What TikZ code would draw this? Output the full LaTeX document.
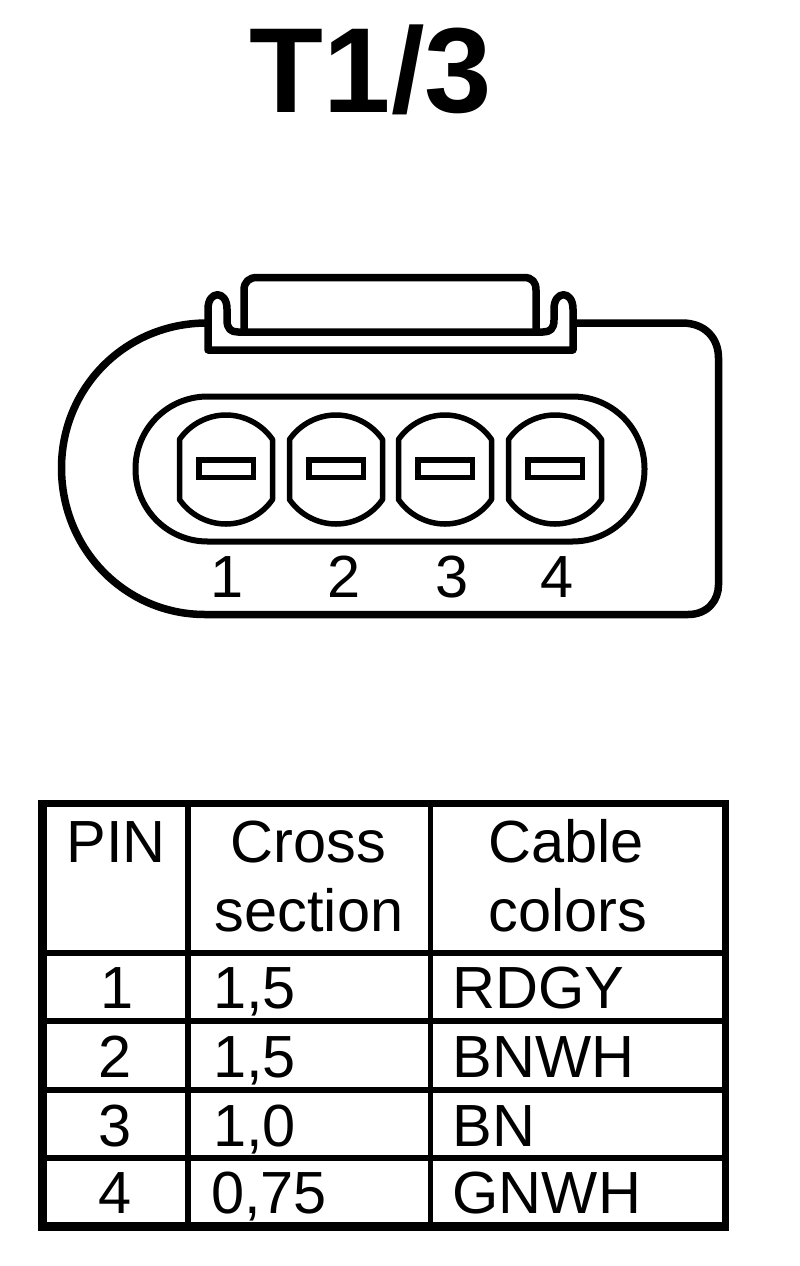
\documentclass[tikz,border=0pt]{standalone}
\usepackage{fontspec}
\setmainfont{Liberation Sans}
\tikzset{
  oval line/.style={line width=6pt,draw=black,line join=round},
  pin line/.style={line width=5.5pt,draw=black,line join=round},
  body line/.style={line width=7.5pt,draw=black,line join=round},
  table line/.style={line width=6pt,draw=black,line join=miter},
  heavy table line/.style={line width=9pt,draw=black},
  light table line/.style={line width=7pt,draw=black},
  cell/.style={anchor=base,inner sep=0pt,font=\fontsize{59.5}{62}\selectfont},
  lcell/.style={anchor=base west,inner sep=0pt,font=\fontsize{59.5}{62}\selectfont},
  title text/.style={anchor=base,inner sep=0pt,font=\fontsize{121}{125}\selectfont\bfseries}
}
\begin{document}
\begin{tikzpicture}[x=1pt,y=-1pt]
\useasboundingbox[fill=white] (0,0) rectangle (800,1266);
\node[title text] (title) at (371,112) {T1/3};
% body
\draw[body line] (207,323) .. controls (125,323) and (61.5,388) .. (61.5,468)
  .. controls (61.5,549) and (125,614.5) .. (205,614.5) -- (688,614.5)
  .. controls (708,614.5) and (718.5,600) .. (718.5,585) -- (718.5,358)
  .. controls (718.5,338) and (705,323) .. (682,323) -- (575,323);
% clip
\draw[body line] (208,350) -- (208,309) .. controls (208,290) and (227,290) .. (227,309)
  -- (227,320) .. controls (227,329) and (231,332) .. (238,332) -- (543,332)
  .. controls (550,332) and (554,329) .. (554,320) -- (554,309)
  .. controls (554,290) and (573,290) .. (573,309) -- (573,350) -- cycle;
\draw[body line] (244,332) -- (244,290) .. controls (244,282) and (249,277.5) .. (257,277.5)
  -- (524,277.5) .. controls (532,277.5) and (536,282) .. (536,290) -- (536,332);
% inner oval
\draw[oval line,rounded corners=72pt] (135.5,396.5) rectangle (644.5,541.5);
% pins
\foreach \c in {226,336,445,555}{
  \begin{scope}[shift={(\c,469.5)}]
    \draw[pin line] (-46.5,-30) .. controls (-36,-45.3) and (-18.3,-54.5) .. (0,-54.5)
      .. controls (18.3,-54.5) and (36,-45.3) .. (46.5,-30) -- (46.5,30)
      .. controls (36,45.3) and (18.3,54.5) .. (0,54.5)
      .. controls (-18.3,54.5) and (-36,45.3) .. (-46.5,30) -- cycle;
    \draw[pin line,line join=miter] (-27,-9.5) rectangle (27.5,8);
  \end{scope}
}
\node[cell] (p1) at (227.5,597) {1};
\node[cell] (p2) at (344.5,597) {2};
\node[cell] (p3) at (452.5,597) {3};
\node[cell] (p4) at (557.5,597) {4};
% table
\draw[heavy table line] (42.5,800) -- (42.5,1231);
\draw[light table line] (38,803.5) -- (729,803.5);
\draw[light table line] (725.5,800) -- (725.5,1231);
\draw[heavy table line] (38,1226.5) -- (729,1226.5);
\draw[table line] (188,803) -- (188,1226);
\draw[table line,line width=5pt] (430,803) -- (430,1226);
\foreach \y in {953,1021,1089.5,1158}{ \draw[table line] (42,\y) -- (725,\y); }
\node[cell] (h1) at (116,862) {PIN};
\node[cell] (h2a) at (308.5,862) {Cross};
\node[cell] (h2b) at (309,931) {section};
\node[cell] (h3a) at (566,862) {Cable};
\node[cell] (h3b) at (568,931) {colors};
\node[cell] (r1) at (117,1008) {1};
\node[cell] (r2) at (115,1077) {2};
\node[cell] (r3) at (115,1146) {3};
\node[cell] (r4) at (115,1213) {4};
\node[lcell] (c1) at (213,1008) {1,5};
\node[lcell] (c2) at (213,1077) {1,5};
\node[lcell] (c3) at (213,1146) {1,0};
\node[lcell] (c4) at (211,1213) {0,75};
\node[lcell] (k1) at (452.5,1008) {RDGY};
\node[lcell] (k2) at (452.5,1077) {BNWH};
\node[lcell] (k3) at (452.5,1146) {BN};
\node[lcell] (k4) at (452.5,1213) {GNWH};
\end{tikzpicture}
\end{document}
